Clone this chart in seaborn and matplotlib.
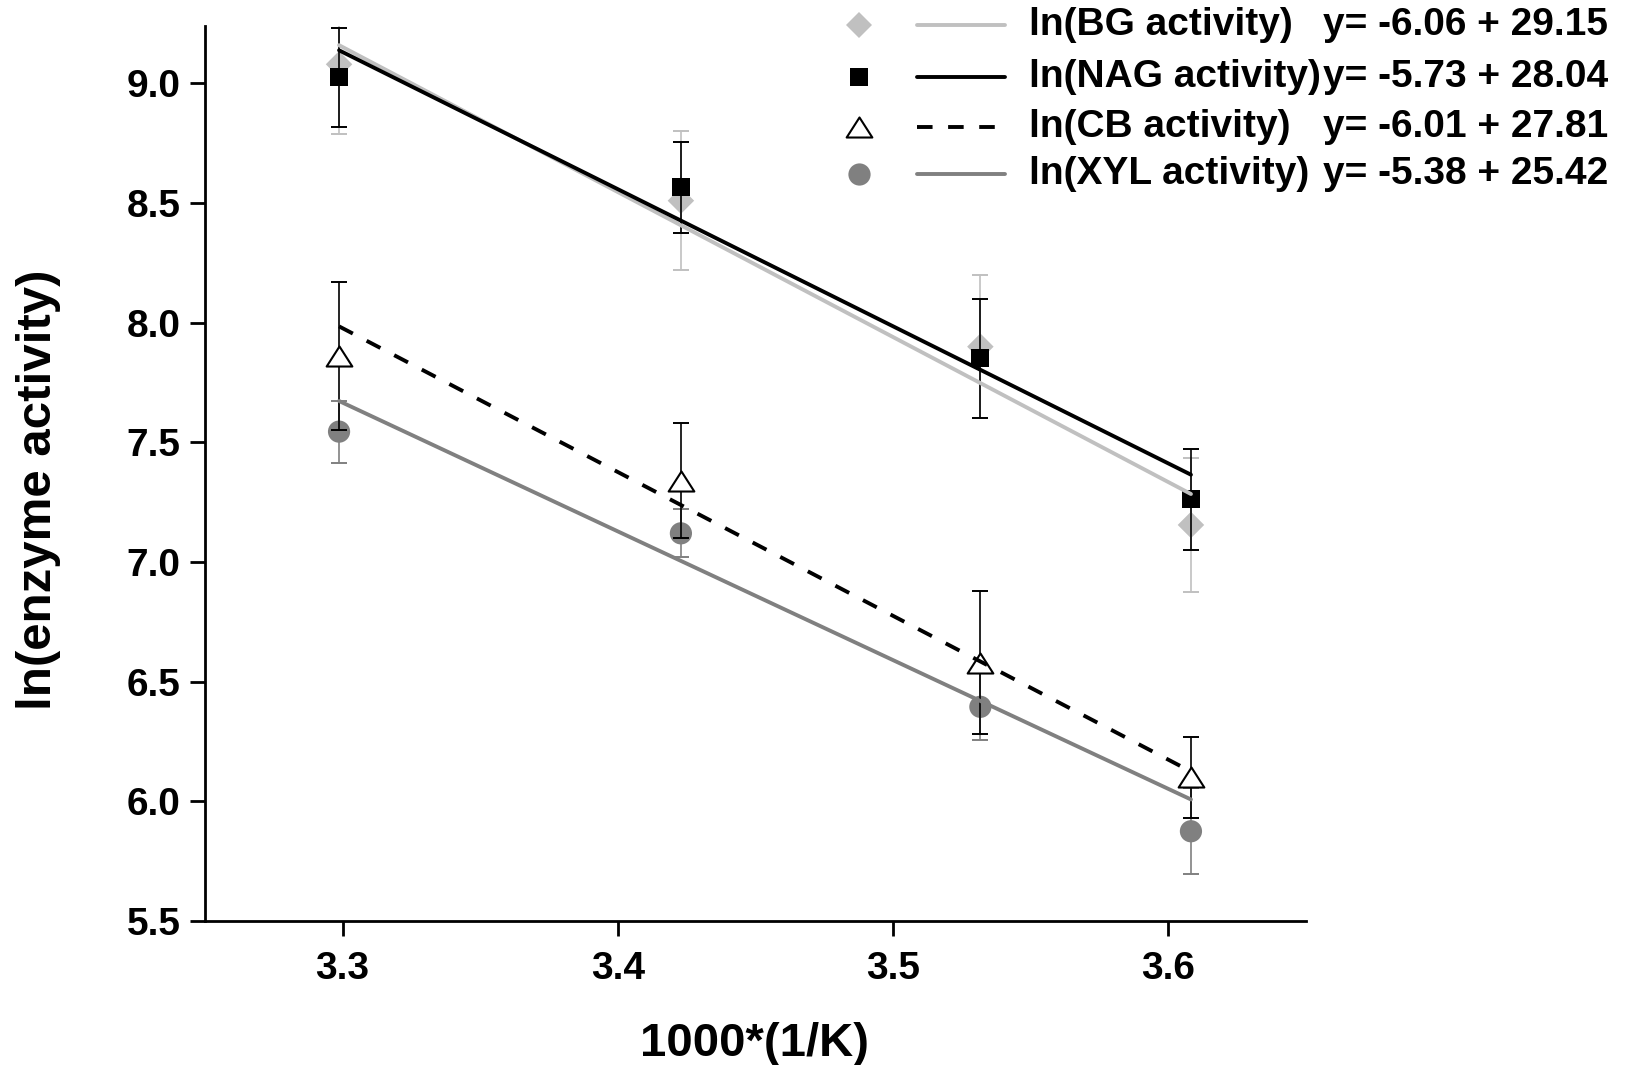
import numpy as np
import pandas as pd
import matplotlib
matplotlib.use("Agg")
import matplotlib.pyplot as plt
import seaborn as sns
from matplotlib.lines import Line2D
from matplotlib.path import Path

# ---------------- data ----------------
inv_temp = [3.2987, 3.4229, 3.5317, 3.6082]          # 1000*(1/K)

bg_mean = [9.08, 8.51, 7.90, 7.155]
bg_err = [0.29, 0.29, 0.30, 0.28]
nag_mean = [9.025, 8.566, 7.851, 7.262]
nag_err = [0.207, 0.19, 0.247, 0.212]
cb_mean = [7.86, 7.34, 6.58, 6.10]
cb_err = [0.31, 0.24, 0.30, 0.17]
xyl_mean = [7.545, 7.12, 6.395, 5.875]
xyl_err = [0.13, 0.10, 0.14, 0.18]

series_names = ["ln(BG activity)", "ln(NAG activity)", "ln(CB activity)", "ln(XYL activity)"]
slopes = [-6.06, -5.73, -6.01, -5.38]
intercepts = [29.15, 28.04, 27.81, 25.42]

x_ticks = [3.3, 3.4, 3.5, 3.6]
y_ticks = [5.5, 6.0, 6.5, 7.0, 7.5, 8.0, 8.5, 9.0]

# ---------------- style ----------------
sns.set_theme(style="ticks")
plt.rcParams['font.family'] = ['Liberation Sans', 'DejaVu Sans']
for key in ['text.color', 'axes.labelcolor', 'xtick.color', 'ytick.color', 'axes.edgecolor']:
    plt.rcParams[key] = 'black'

fig = plt.figure(figsize=(16.33, 10.65), dpi=100)
ax = fig.add_axes([205/1633, 1 - 921/1065, (1306-205)/1633, (921-26)/1065])

tri = Path([(0, 0.78), (-1, -0.78), (1, -0.78), (0, 0.78)],
           [Path.MOVETO, Path.LINETO, Path.LINETO, Path.CLOSEPOLY])
styles = [
    dict(mean=bg_mean, err=bg_err, marker='D', ms=13.5, fc='#c0c0c0', ec='none', ecol='#c0c0c0',
         lcol='#c0c0c0', ls='-', z=2),
    dict(mean=nag_mean, err=nag_err, marker='s', ms=13, fc='black', ec='none', ecol='black',
         lcol='black', ls='-', z=4),
    dict(mean=cb_mean, err=cb_err, marker=tri, ms=18.5, fc='white', ec='black', ecol='black',
         lcol='black', ls=(0, (4, 4)), z=8),
    dict(mean=xyl_mean, err=xyl_err, marker='o', ms=16, fc='#808080', ec='none', ecol='#808080',
         lcol='#808080', ls='-', z=6),
]

for i, st in enumerate(styles):
    ax.errorbar(inv_temp, st['mean'], yerr=st['err'], fmt='none', ecolor=st['ecol'],
                elinewidth=1.2, capsize=6, capthick=1.4, zorder=st['z'])
    sns.scatterplot(x=inv_temp, y=st['mean'], marker=st['marker'], s=st['ms']**2,
                    color=st['fc'], edgecolor=st['ec'], linewidth=1.5 if st['ec'] != 'none' else 0,
                    ax=ax, zorder=st['z'] + 1, legend=False)

# regression lines given by the equations
line_order = [0, 3, 2, 1]
for i in line_order:
    st = styles[i]
    xs = np.array([min(inv_temp), max(inv_temp)])
    ys = slopes[i] * xs + intercepts[i]
    sns.lineplot(x=xs, y=ys, color=st['lcol'], linewidth=2.8, linestyle=st['ls'],
                 ax=ax, zorder=10 + i, legend=False)

ax.set_xlim(3.25, 3.65)
ax.set_ylim(5.5, 9.24)
ax.set_xticks(x_ticks)
ax.set_xticklabels([f"{v:.1f}" for v in x_ticks])
ax.set_yticks(y_ticks)
ax.set_yticklabels([f"{v:.1f}" for v in y_ticks])
for lab in ax.get_xticklabels() + ax.get_yticklabels():
    lab.set_fontweight('bold')
    lab.set_fontsize(28)
ax.tick_params(axis='both', length=10.5, width=2, color='black', direction='out')
ax.tick_params(axis='y', pad=7)
ax.tick_params(axis='x', pad=11)
sns.despine(ax=ax)
for sp in ['left', 'bottom']:
    ax.spines[sp].set_linewidth(2)
    ax.spines[sp].set_color('black')

fig.text(755/1633, 1 - 1044/1065, "1000*(1/K)", fontsize=34, fontweight='bold',
         ha='center', va='center')
fig.text(39/1633, 1 - 490/1065, "ln(enzyme activity)", rotation=90, fontsize=35.5,
         fontweight='bold', ha='center', va='center')

# ---------------- legend (manual) ----------------
row_y = [25, 77, 127, 174]
for i, st in enumerate(styles):
    yf = 1 - row_y[i] / 1065
    fig.add_artist(Line2D([859/1633], [yf], marker=st['marker'], markersize=st['ms'],
                          markerfacecolor=st['fc'], markeredgecolor=st['ec'] if st['ec'] != 'none' else st['fc'],
                          markeredgewidth=1.5 if st['ec'] != 'none' else 0, linestyle='none',
                          transform=fig.transFigure))
    fig.add_artist(Line2D([917/1633, 1005/1633], [yf, yf], color=st['lcol'], linewidth=2.8,
                          linestyle=st['ls'], transform=fig.transFigure))
    fig.text(1029/1633, yf, series_names[i], fontsize=28, fontweight='bold', ha='left',
             va='center')
    fig.text(1323/1633, yf, f"y= {slopes[i]:.2f} + {intercepts[i]:.2f}", fontsize=28,
             fontweight='bold', ha='left', va='center')

fig.savefig("out.png", dpi=100)
